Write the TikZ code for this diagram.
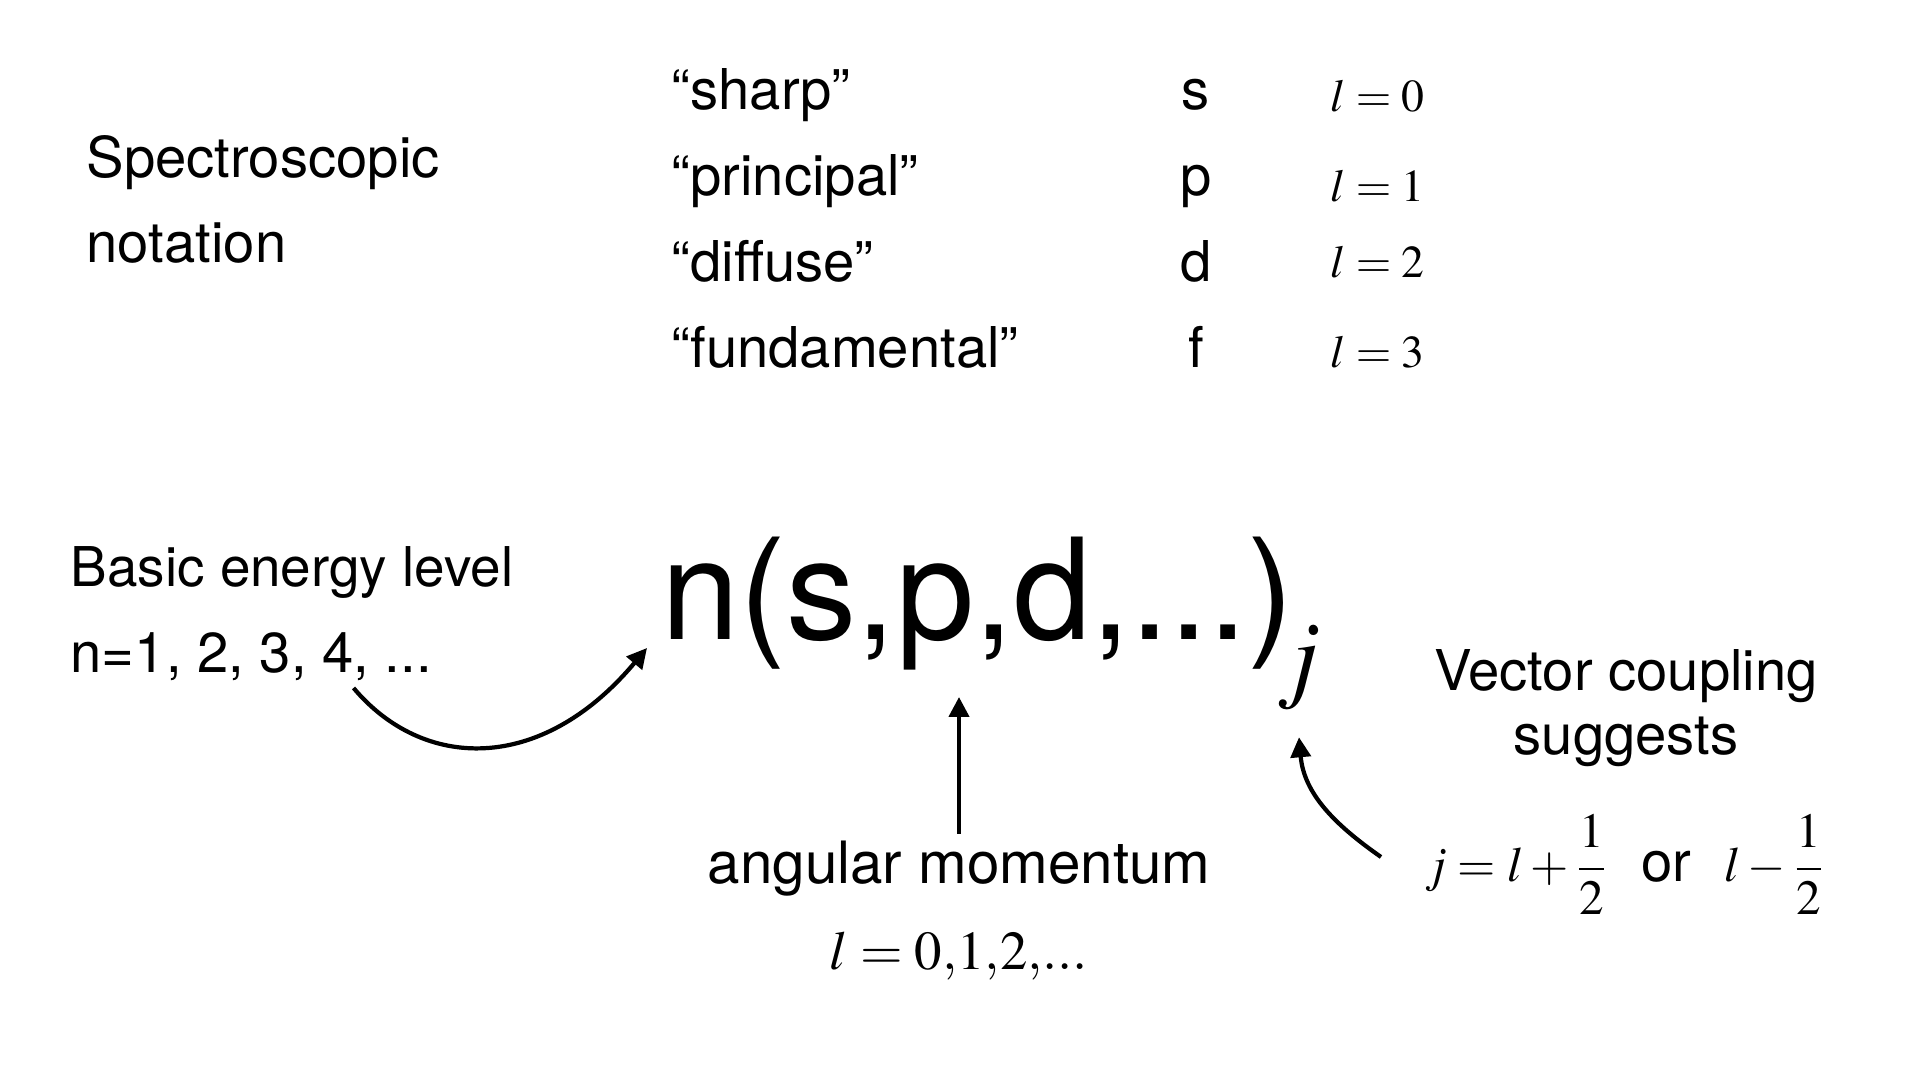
\documentclass[tikz,border=0pt]{standalone}
\usepackage{amsmath}
\usepackage{mathptmx}
\usepackage[no-math]{fontspec}
\setmainfont{TeX Gyre Heros}
\usetikzlibrary{positioning,arrows.meta}

\begin{document}
\begin{tikzpicture}[
    node distance=0.86cm,
    txt/.style={inner sep=0pt, font=\fontsize{16}{19}\selectfont},
    mth/.style={inner sep=0pt, font=\fontsize{13}{16}\selectfont},
    arrow/.style={-{Triangle[length=0.2cm,width=0.2cm]}, line width=1.2pt}
]
    \useasboundingbox (0,0) rectangle (19.2,10.8);

    % Notation table
    \node[txt, anchor=base west] (spec) at (0.86,9.02) {Spectroscopic};
    \node[txt, below=0.85cm of spec.base west, anchor=base west] (notation) {notation};

    \node[txt, anchor=base west] (sharp) at (6.71,9.70) {“sharp”};
    \node[txt, below=of sharp.base west, anchor=base west] (principal) {“principal”};
    \node[txt, below=of principal.base west, anchor=base west] (diffuse) {“diffuse”};
    \node[txt, below=of diffuse.base west, anchor=base west] (fundamental) {“fundamental”};

    \node[txt, anchor=base] (letS) at (11.96,9.70) {s};
    \node[txt, below=of letS.base, anchor=base] (letP) {p};
    \node[txt, below=of letP.base, anchor=base] (letD) {d};
    \node[txt, below=of letD.base, anchor=base] (letF) {f};

    \node[mth, anchor=base west] (lS) at (13.30,9.68) {$l=0$};
    \node[mth, below=0.90cm of lS.base west, anchor=base west] (lP) {$l=1$};
    \node[mth, below=0.76cm of lP.base west, anchor=base west] (lD) {$l=2$};
    \node[mth, below=0.90cm of lD.base west, anchor=base west] (lF) {$l=3$};

    % Term symbol
    \node[anchor=base west, inner sep=0pt, font=\fontsize{40}{48}\selectfont] (term) at (6.61,4.40) {n(s,p,d,...)};
    \node[anchor=base west, inner sep=0pt, font=\fontsize{28}{34}\selectfont] (sub) at (12.76,3.90) {$j$};

    % Principal quantum number
    \node[txt, anchor=base west, font=\fontsize{15.6}{19}\selectfont] (basic) at (0.70,4.93) {Basic energy level};
    \node[txt, below=of basic.base west, anchor=base west] (nlist) {n=1, 2, 3, 4, ...};

    % Orbital angular momentum
    \node[txt, anchor=base, font=\fontsize{16.6}{20}\selectfont] (angmom) at (9.59,1.96) {angular momentum};
    \node[anchor=base, inner sep=0pt, font=\fontsize{15.6}{19}\selectfont] (lvals) at (9.59,1.10) {$l=0{,}1{,}2{,}...$};

    % Total angular momentum
    \node[txt, anchor=base] (vector) at (16.26,3.89) {Vector coupling};
    \node[txt, below=0.64cm of vector.base, anchor=base] (suggests) {suggests};
    \node[inner sep=0pt, font=\fontsize{14}{17}\selectfont] (couple) at (16.25,2.15) {$j=l+\dfrac{1}{2}$\hspace{0.33cm}{\fontsize{16}{19}\selectfont or}\hspace{0.33cm}$l-\dfrac{1}{2}$};

    % Arrows
    \draw[arrow] ([xshift=-0.79cm,yshift=-0.06cm]nlist.south east) .. controls +(-50:1.07) and +(-130:1.66) .. ([xshift=-0.14cm,yshift=-0.08cm]term.base west);
    \draw[arrow] ([yshift=0.07cm]angmom.north) -- ([yshift=-0.57cm]angmom.north |- term.base);
    \draw[arrow] ([xshift=-0.43cm,yshift=0.08cm]couple.west) to[out=145, in=-85] ([yshift=-0.26cm]sub.south);
\end{tikzpicture}
\end{document}
